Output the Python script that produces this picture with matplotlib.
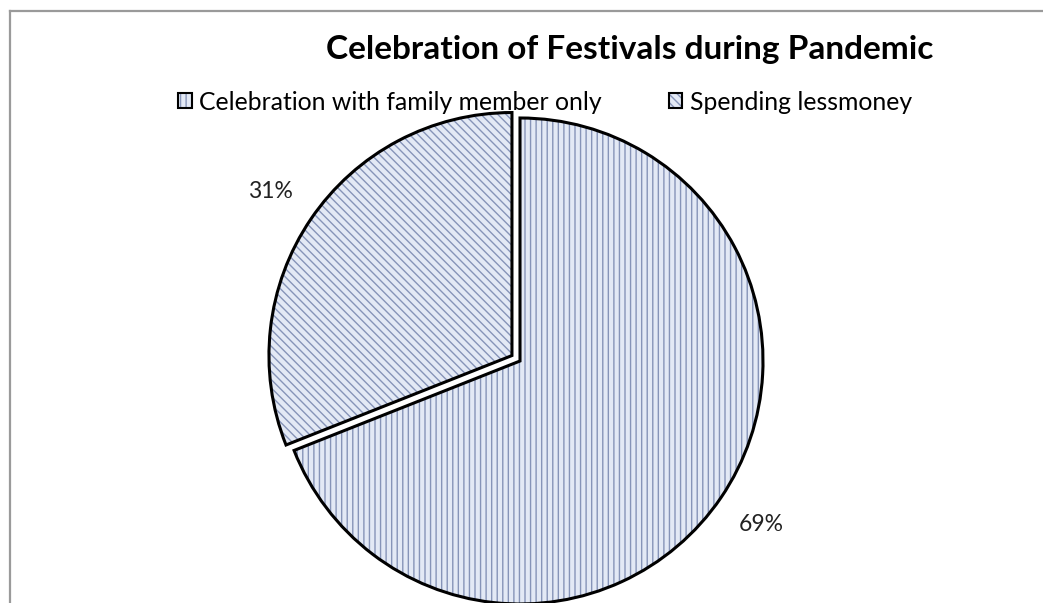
import matplotlib.pyplot as plt
from matplotlib.patches import Rectangle
from matplotlib.lines import Line2D
from matplotlib.legend_handler import HandlerTuple

plt.rcParams['font.family'] = ['Lato', 'DejaVu Sans']
plt.rcParams['hatch.linewidth'] = 1.0

labels = ['Celebration with family member only', 'Spending lessmoney']
shares = [69, 31]
hatches = ['|||', '\\\\\\\\']
title = 'Celebration of Festivals during Pandemic'

face = '#e3e9f5'
hatch_col = '#8694b8'

W, H = 1043, 603
fig = plt.figure(figsize=(W / 100, H / 100), dpi=100)

# pie centre / radius in pixels
cx, cy, r = 520, 361, 243
lim = 1.4
size = 2 * lim * r
ax = fig.add_axes([(cx - size / 2) / W, (H - cy - size / 2) / H, size / W, size / H])

explode = [0, 0.04]
wedges, texts, autotexts = ax.pie(shares, startangle=90, counterclock=False,
                                  explode=explode, radius=1,
                                  autopct='%1.0f%%', pctdistance=1.2,
                                  textprops={'fontsize': 16.5, 'color': '#222222'})
for w, h in zip(wedges, hatches):
    w.set_facecolor(face)
    w.set_edgecolor(hatch_col)
    w.set_hatch(h)
    w.set_linewidth(0)

outlines, _ = ax.pie(shares, startangle=90, counterclock=False,
                     explode=explode, radius=1,
                     wedgeprops={'fill': False, 'edgecolor': 'black', 'linewidth': 2.2})
ax.set_xlim(-lim, lim)
ax.set_ylim(-lim, lim)
ax.axis('off')

# legend: hatched square + black outline
handles = []
for h in hatches:
    p1 = Rectangle((0, 0), 1, 1, facecolor=face, edgecolor=hatch_col, hatch=h, linewidth=0)
    p2 = Rectangle((0, 0), 1, 1, fill=False, edgecolor='black', linewidth=1.5)
    handles.append((p1, p2))
fig.legend(handles, labels, ncol=2, loc='center left',
           bbox_to_anchor=(178 / W, 1 - 102 / H), frameon=False, borderpad=0,
           borderaxespad=0, fontsize=17.8, handlelength=0.56, handleheight=0.56,
           handletextpad=0.3, columnspacing=2.7,
           handler_map={tuple: HandlerTuple(ndivide=1, pad=0)})

fig.text(630 / W, 1 - 50 / H, title, ha='center', va='center',
         fontsize=24, fontweight='bold', color='black')

# chart frame (left and top edges visible)
fig.add_artist(Line2D([10 / W, 10 / W], [0, 1 - 11 / H], color='#9a9a9a', linewidth=1.6))
fig.add_artist(Line2D([10 / W, 1], [1 - 11 / H, 1 - 11 / H], color='#9a9a9a', linewidth=1.6))

fig.savefig('out.png', dpi=100)
